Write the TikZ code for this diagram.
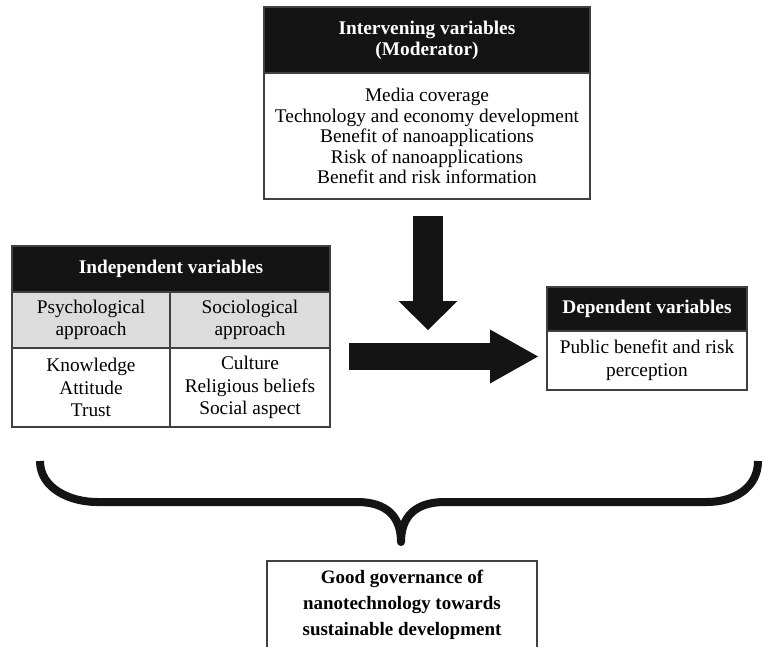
\documentclass[tikz,border=0pt]{standalone}
\usepackage{fontspec}
\setmainfont{Liberation Serif}
\usetikzlibrary{arrows.meta,positioning}
\definecolor{inkblack}{HTML}{141414}
\definecolor{cellgrey}{HTML}{DCDCDC}

\begin{document}
\begin{tikzpicture}[
  boxline/.style={draw=black!75,line width=0.9pt,outer sep=0pt},
  headbox/.style={boxline,fill=inkblack,text=white,align=center,inner sep=0pt,
    font=\fontsize{16.5}{18}\selectfont\bfseries},
  listbox/.style={boxline,fill=white,align=center,inner sep=0pt,
    font=\fontsize{16.5}{19.2}\selectfont},
  greybox/.style={listbox,fill=cellgrey},
  blockarrow/.style={draw=inkblack,line width=#1},
  brace/.style={draw=inkblack,line width=0.24cm,line join=round}
]
\useasboundingbox (0,0) rectangle (22.89,19.5);

% moderator
\node[headbox,minimum width=9.78cm,minimum height=1.98cm] (ivhead) at (12.81,18.30) {Intervening variables\\(Moderator)};
\node[listbox,below=0pt of ivhead,minimum width=9.78cm,minimum height=3.78cm,font=\fontsize{16.5}{17.5}\selectfont] (ivlist) {Media coverage\\Technology and economy development\\Benefit of nanoapplications\\Risk of nanoapplications\\Benefit and risk information};

% independent
\node[headbox,minimum width=9.54cm,minimum height=1.38cm] (indhead) at (5.13,11.43) {Independent variables};
\node[greybox,anchor=north west,minimum width=4.74cm,minimum height=1.68cm] (psyhead) at (indhead.south west) {Psychological\\approach};
\node[greybox,anchor=north east,minimum width=4.8cm,minimum height=1.68cm] (sochead) at (indhead.south east) {Sociological\\approach};
\node[listbox,below=0pt of psyhead,minimum width=4.74cm,minimum height=2.37cm] (psylist) {Knowledge\\Attitude\\Trust};
\node[listbox,below=0pt of sochead,minimum width=4.8cm,minimum height=2.37cm] (soclist) {Culture\\Religious beliefs\\Social aspect};

% dependent
\node[headbox,minimum width=6cm,minimum height=1.32cm] (dephead) at (19.41,10.23) {Dependent variables};
\node[listbox,below=0pt of dephead,minimum width=6cm,minimum height=1.77cm,font=\fontsize{16.5}{19.6}\selectfont] (deplist) {Public benefit and risk\\perception};

% block arrows
\coordinate (modtop) at (12.84,13.02);
\coordinate (modtip) at (12.84,9.6);
\coordinate (indout) at (10.47,8.805);
\coordinate (depin) at (16.14,8.805);
\draw[blockarrow=0.9cm,-{Triangle[length=0.87cm,width=1.77cm,line width=0pt]}] (modtop) -- (modtip);
\draw[blockarrow=0.81cm,-{Triangle[length=1.44cm,width=1.62cm,line width=0pt]}] (indout) -- (depin);

% brace
\draw[brace] (1.2,5.67) .. controls (1.2,4.85) and (2.1,4.44) .. (2.91,4.44) -- (10.71,4.44)
  .. controls (11.6,4.44) and (12.03,4.0) .. (12.03,3.24)
  .. controls (12.03,4.0) and (12.46,4.44) .. (13.35,4.44) -- (21.21,4.44)
  .. controls (22.0,4.44) and (22.74,4.85) .. (22.74,5.67);

% governance
\begin{scope}
\clip (0,0.1) rectangle (22.89,19.5);
\node[listbox,minimum width=8.1cm,minimum height=2.64cm,font=\fontsize{16.2}{22.2}\selectfont\bfseries] (gov) at (12.06,1.35) {Good governance of\\nanotechnology towards\\sustainable development};
\end{scope}
\end{tikzpicture}
\end{document}
